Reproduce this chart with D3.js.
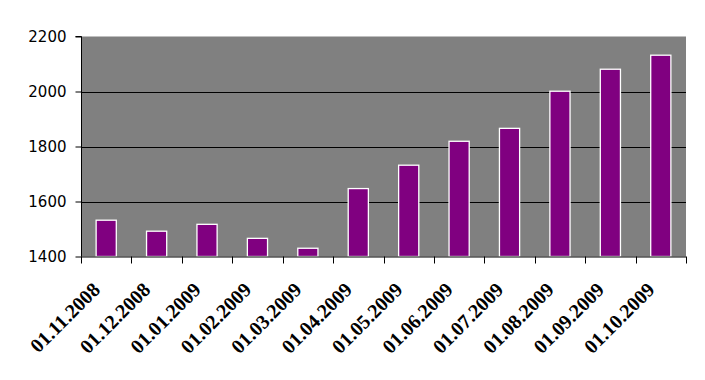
<!DOCTYPE html>
<html><head><meta charset="utf-8">
<script src="https://cdn.jsdelivr.net/npm/d3@7"></script>
<style>body{margin:0;background:#fff}</style>
</head><body>
<svg id="c" width="705" height="380"></svg>
<script>
const categories = ["01.11.2008","01.12.2008","01.01.2009","01.02.2009","01.03.2009","01.04.2009","01.05.2009","01.06.2009","01.07.2009","01.08.2009","01.09.2009","01.10.2009"];
const values = [1532,1492,1517,1466,1430,1647,1732,1819,1866,2001,2081,2132];
const yTicks = [1400,1600,1800,2000,2200];

const svg = d3.select("#c");
const m = {left:81, right:686, top:36.5, bottom:256.5};
const x = d3.scaleBand().domain(categories).range([m.left, m.right]).paddingInner(0.6).paddingOuter(0.3);
const xb = d3.scaleBand().domain(categories).range([m.left, m.right]);
const y = d3.scaleLinear().domain([1400,2200]).range([m.bottom, m.top]);

svg.append("rect").attr("x",m.left).attr("y",m.top).attr("width",m.right-m.left).attr("height",m.bottom-m.top).attr("fill","#808080");

svg.append("g").selectAll("line").data(yTicks.filter(d=>d>1400 && d<2200)).join("line")
  .attr("x1",m.left).attr("x2",m.right).attr("y1",d=>Math.round(y(d))+0.5).attr("y2",d=>Math.round(y(d))+0.5)
  .attr("stroke","#000").attr("stroke-width",1);

svg.append("g").selectAll("rect").data(values).join("rect")
  .attr("x",(d,i)=>x(categories[i])).attr("width",x.bandwidth())
  .attr("y",d=>y(d)).attr("height",d=>m.bottom-y(d))
  .attr("fill","#800080").attr("stroke","#fff").attr("stroke-width",1.3);

// y axis
const ya = svg.append("g").attr("transform",`translate(${m.left+0.5},0)`)
  .call(d3.axisLeft(y).tickValues(yTicks).tickSize(6).tickPadding(9).tickFormat(d3.format("d")));
ya.select(".domain").attr("stroke","#000").attr("d",`M-6,${m.top}H0V${m.bottom}`);
ya.selectAll("text").attr("font-family","DejaVu Sans, Verdana, sans-serif").attr("font-size",15).attr("fill","#000");

// x axis
const bounds = categories.map(c=>xb(c)).concat([m.right]);
const xa = svg.append("g");
xa.append("line").attr("x1",m.left).attr("x2",m.right).attr("y1",m.bottom+0.5).attr("y2",m.bottom+0.5).attr("stroke","#000");
xa.selectAll("line.t").data(bounds).join("line").attr("class","t")
  .attr("x1",d=>Math.round(d)+0.5).attr("x2",d=>Math.round(d)+0.5).attr("y1",m.bottom).attr("y2",m.bottom+7).attr("stroke","#000");
xa.selectAll("text").data(categories).join("text")
  .attr("transform",d=>`translate(${xb(d)+xb.bandwidth()/2-5},${291}) rotate(-45)`)
  .attr("text-anchor","end")
  .attr("font-family","Liberation Serif, Times New Roman, serif").attr("font-weight","bold").attr("font-size",20)
  .attr("fill","#000").text(d=>d);
</script>
</body></html>
